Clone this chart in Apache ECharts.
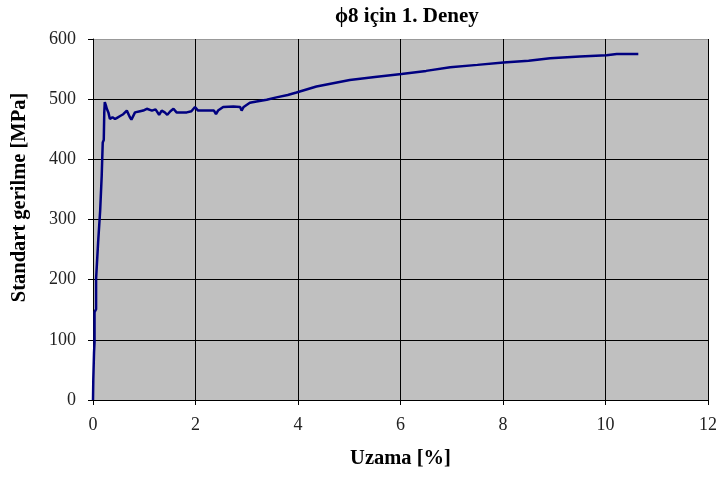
<!DOCTYPE html>
<html><head><meta charset="utf-8">
<script src="https://cdn.jsdelivr.net/npm/echarts@6/dist/echarts.min.js"></script>
<style>html,body{margin:0;padding:0;background:#fff}#c{width:722px;height:481px}</style>
</head><body><div id="c"></div>
<script>
var titleText = 'ϕ8 için 1. Deney';
var xAxisName = 'Uzama [%]';
var yAxisName = 'Standart gerilme [MPa]';
var strain = [0, 0.006, 0.02, 0.03, 0.03, 0.06, 0.06, 0.08, 0.10, 0.12, 0.14, 0.15, 0.17, 0.18, 0.19, 0.21, 0.22, 0.23, 0.25, 0.27, 0.30, 0.33, 0.36, 0.38, 0.43, 0.47, 0.53, 0.59, 0.66, 0.72, 0.75, 0.82, 0.92, 0.98, 1.05, 1.15, 1.22, 1.29, 1.34, 1.40, 1.45, 1.51, 1.57, 1.63, 1.72, 1.83, 1.92, 1.99, 2.05, 2.15, 2.28, 2.36, 2.40, 2.44, 2.54, 2.74, 2.87, 2.90, 2.94, 3.06, 3.19, 3.39, 3.58, 3.80, 3.97, 4.36, 5.01, 5.50, 6.02, 6.50, 6.97, 7.50, 8.01, 8.50, 8.92, 9.50, 10.02, 10.22, 10.64];
var stress = [0, 35, 79, 96, 146, 151, 201, 204, 262, 264, 315, 318, 373, 375, 428, 432, 478, 495, 490, 484, 478, 467, 470, 470, 467, 469, 472, 475, 481, 470, 466, 478, 480, 481, 484, 481, 483, 474, 481, 478, 474, 480, 484, 478, 478, 478, 480, 487, 481, 481, 481, 481, 475, 481, 487, 488, 487, 481, 487, 494, 496, 499, 503, 507, 511, 521, 532, 537, 542, 547, 553, 557, 561, 564, 568, 571, 573, 575, 575];
var xTicks = [0, 2, 4, 6, 8, 10, 12];
var yTicks = [0, 100, 200, 300, 400, 500, 600];

var pts = strain.map(function(x, i){ return [x, stress[i]]; });
var serif = '"Liberation Serif","Times New Roman",serif';
var chart = echarts.init(document.getElementById('c'), null, {renderer:'canvas'});
chart.setOption({
  animation: false,
  backgroundColor: '#fff',
  title: {text: titleText, top: 1, left: 330,
    textStyle: {fontFamily: serif, fontWeight: 'bold', fontSize: 21, color: '#000'}},
  grid: {left: 93, right: 14, top: 39, bottom: 81, show: true, backgroundColor: '#c0c0c0', borderWidth: 0},
  xAxis: {type: 'value', min: xTicks[0], max: xTicks[xTicks.length-1], interval: 2,
    name: xAxisName, nameLocation: 'middle', nameGap: 48,
    nameTextStyle: {fontFamily: serif, fontWeight: 'bold', fontSize: 20.5, color: '#000'},
    axisLine: {show: true, lineStyle: {color: '#000', width: 1}},
    axisTick: {show: true, inside: false, length: 5, lineStyle: {color: '#000'}},
    axisLabel: {fontFamily: serif, fontSize: 18, color: '#222', margin: 16},
    splitLine: {show: true, lineStyle: {color: '#000', width: 1}}},
  yAxis: {type: 'value', min: yTicks[0], max: yTicks[yTicks.length-1], interval: 100,
    name: yAxisName, nameLocation: 'middle', nameGap: 63, nameRotate: 90,
    nameTextStyle: {fontFamily: serif, fontWeight: 'bold', fontSize: 20.5, color: '#000', padding: [0, 0, 0, 44]},
    axisLine: {show: true, lineStyle: {color: '#000', width: 1}},
    axisTick: {show: true, inside: false, length: 5, lineStyle: {color: '#000'}},
    axisLabel: {fontFamily: serif, fontSize: 18, color: '#222', margin: 17},
    splitLine: {show: true, lineStyle: {color: ['#000','#000','#000','#000','#000','#000','#999'], width: 1}}},
  series: [{type: 'line', data: pts, showSymbol: false, symbol: 'none',
    lineStyle: {color: '#000080', width: 2.5}, clip: true}]
});
</script></body></html>
